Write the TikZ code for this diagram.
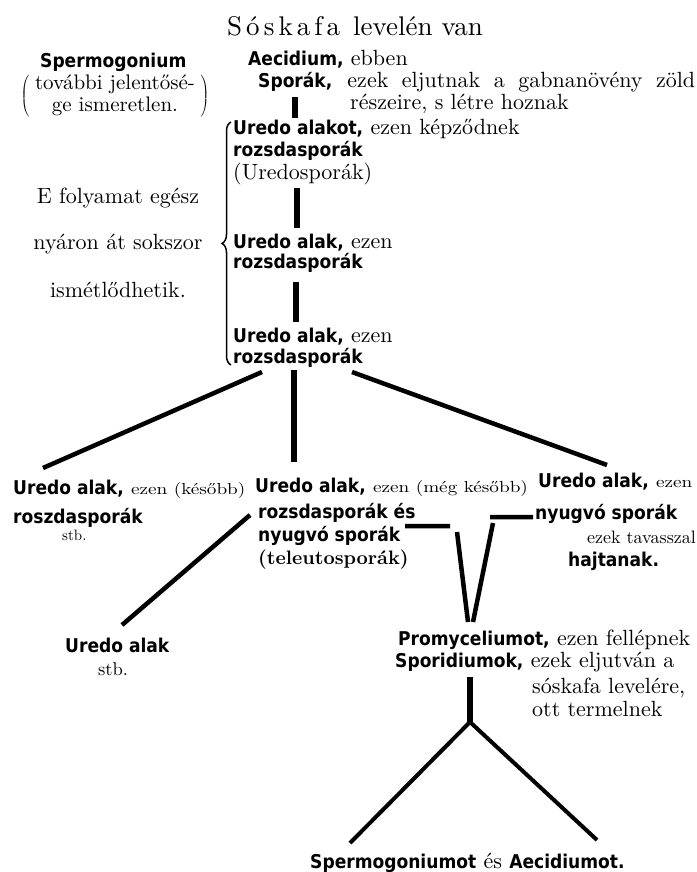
\documentclass[tikz,border=0pt]{standalone}
\usepackage{fontspec}
\setmainfont{lmroman10-regular.otf}[BoldFont=lmroman10-bold.otf]
\newfontfamily\grotfont{DejaVu Sans Condensed}
\newfontfamily\widerm{lmroman10-regular.otf}[FakeStretch=1.2]
\newfontfamily\spacedrm{lmroman10-regular.otf}[LetterSpace=15]
\usetikzlibrary{decorations.pathreplacing}

\newcommand\gr[1]{{\grotfont\bfseries\fontsize{19}{21.5}\selectfont #1}}
\newcommand\sm[1]{{\widerm\fontsize{16}{21.5}\selectfont #1}}
\newcommand\rows[1]{\begin{tabular}[t]{@{}l@{}}#1\end{tabular}}

\begin{document}
\begin{tikzpicture}[x=1pt,y=-1pt,
    txt/.style={inner sep=0pt,anchor=base west,font=\fontsize{22}{21.5}\selectfont},
    bar/.style={line width=5.5pt},
    stroke/.style={line width=4.5pt},
    fork line/.style={line width=4pt},
    curly/.style={decorate,decoration={brace,amplitude=9pt},line width=1.5pt}]
    \useasboundingbox (0,0) rectangle (696,872);

    % fejlec es a felso sor
    \node[txt,font=\fontsize{27}{27}\selectfont] at (227,36) (title) {{\spacedrm Sóskafa}\hspace{13pt}levelén van};
    \node[txt] at (40,68) (sperm) {\gr{Spermogonium}};
    \node[inner sep=0pt,font=\fontsize{21}{21.5}\selectfont] at (115,96) (note)
        {$\left(\;\begin{tabular}{@{}c@{}}további jelentősé-\\ge ismeretlen.\end{tabular}\;\right)$};
    \node[txt] at (248,66) (aec) {\gr{Aecidium,} ebben};
    \node[txt] at (258,88) (spor) {\rows{\makebox[437pt][s]{\gr{Sporák,} ezek eljutnak a gabnanövény zöld}\\
        \hspace*{92pt}részeire, s létre hoznak}};

    % a nyari ismetlodes
    \node[txt] at (233,135) (ur1) {\rows{\gr{Uredo alakot,} ezen képződnek\\\gr{rozsdasporák}\\(Uredosporák)}};
    \node[txt] at (233,248) (ur2) {\rows{\gr{Uredo alak,} ezen\\[-1.5pt]\gr{rozsdasporák}}};
    \node[txt] at (233,342) (ur3) {\rows{\gr{Uredo alak,} ezen\\\gr{rozsdasporák}}};
    \node[txt,anchor=base] at (118,203) (proc) {\begin{tabular}[t]{@{}c@{}}E folyamat egész\\[24.5pt]
        nyáron át sokszor\\[26.5pt]ismétlődhetik.\end{tabular}};
    \draw[curly] (231,365) -- (231,122);

    % harom ag
    \node[txt] at (13,494) (ul) {\rows{\gr{Uredo alak,} \sm{ezen (később)}\\[7.5pt]\gr{roszdasporák}\\[-4.5pt]
        \hspace*{49pt}{\fontsize{15}{15}\selectfont stb.}}};
    \node[txt] at (255,492) (um) {\rows{\gr{Uredo alak,} \sm{ezen (még később)}\\[4.5pt]
        \hspace*{3pt}\gr{rozsdasporák és}\\[1.5pt]\hspace*{3pt}\gr{nyugvó sporák}\\[1.5pt]
        \hspace*{3pt}{\bfseries\fontsize{19.5}{21.5}\selectfont (teleutosporák)}}};
    \node[txt] at (538,487) (ur) {\rows{\gr{Uredo alak,} \sm{ezen}\\[10.5pt]\hspace*{-3pt}\gr{nyugvó sporák}\\[2.5pt]
        \hspace*{49pt}{\fontsize{18}{21.5}\selectfont ezek tavasszal}\\[1.5pt]\hspace*{30pt}\gr{hajtanak.}}};
    \node[txt] at (65,652) (ull) {\rows{\gr{Uredo alak}\\[1.5pt]\hspace*{33pt}{\fontsize{18.5}{21.5}\selectfont stb.}}};
    \node[txt] at (398,645) (prom) {\rows{\gr{Promyceliumot,} ezen fellépnek\\[0.5pt]
        \hspace*{-3pt}\gr{Sporidiumok,} ezek eljutván a\\[4.5pt]
        \hspace*{134pt}sóskafa levelére,\\[1.5pt]\hspace*{134pt}ott termelnek}};
    \node[txt] at (310,868) (final) {\gr{Spermogoniumot} és \gr{Aecidiumot.}};
    \coordinate (fork) at (470,722);

    \draw[bar] ([shift={(37,9)}]spor.base west) -- ([shift={(62,-17)}]ur1.base west);
    \draw[bar] ([shift={(64,53)}]ur1.base west) -- ([shift={(64,-20)}]ur2.base west);
    \draw[bar] ([shift={(63,34)}]ur2.base west) -- ([shift={(63,-20)}]ur3.base west);
    \draw[bar] ([shift={(61,28)}]ur3.base west) -- ([shift={(39,-30)}]um.base west);
    \draw[stroke] ([shift={(29,30)}]ur3.base west) -- ([shift={(30,-26)}]ul.base west);
    \draw[stroke] ([shift={(119,30)}]ur3.base west) -- ([shift={(69,-22)}]ur.base west);
    \draw[stroke] ([shift={(-5,23)}]um.base west) -- ([shift={(57,-27)}]ull.base west);
    \draw[stroke] ([shift={(150,34)}]um.base west) -- ([shift={(195,34)}]um.base west)
        ([shift={(202,40)}]um.base west) -- ([shift={(70,-23)}]prom.base west);
    \draw[stroke] ([shift={(-5,30)}]ur.base west) -- ([shift={(-48,30)}]ur.base west)
        ([shift={(-45,36)}]ur.base west) -- ([shift={(75,-23)}]prom.base west);
    \draw[bar] ([shift={(72,32)}]prom.base west) -- (fork);
    \draw[fork line] (fork) -- ([shift={(40,-25)}]final.base west);
    \draw[fork line] (fork) -- ([shift={(287,-28)}]final.base west);
\end{tikzpicture}
\end{document}
